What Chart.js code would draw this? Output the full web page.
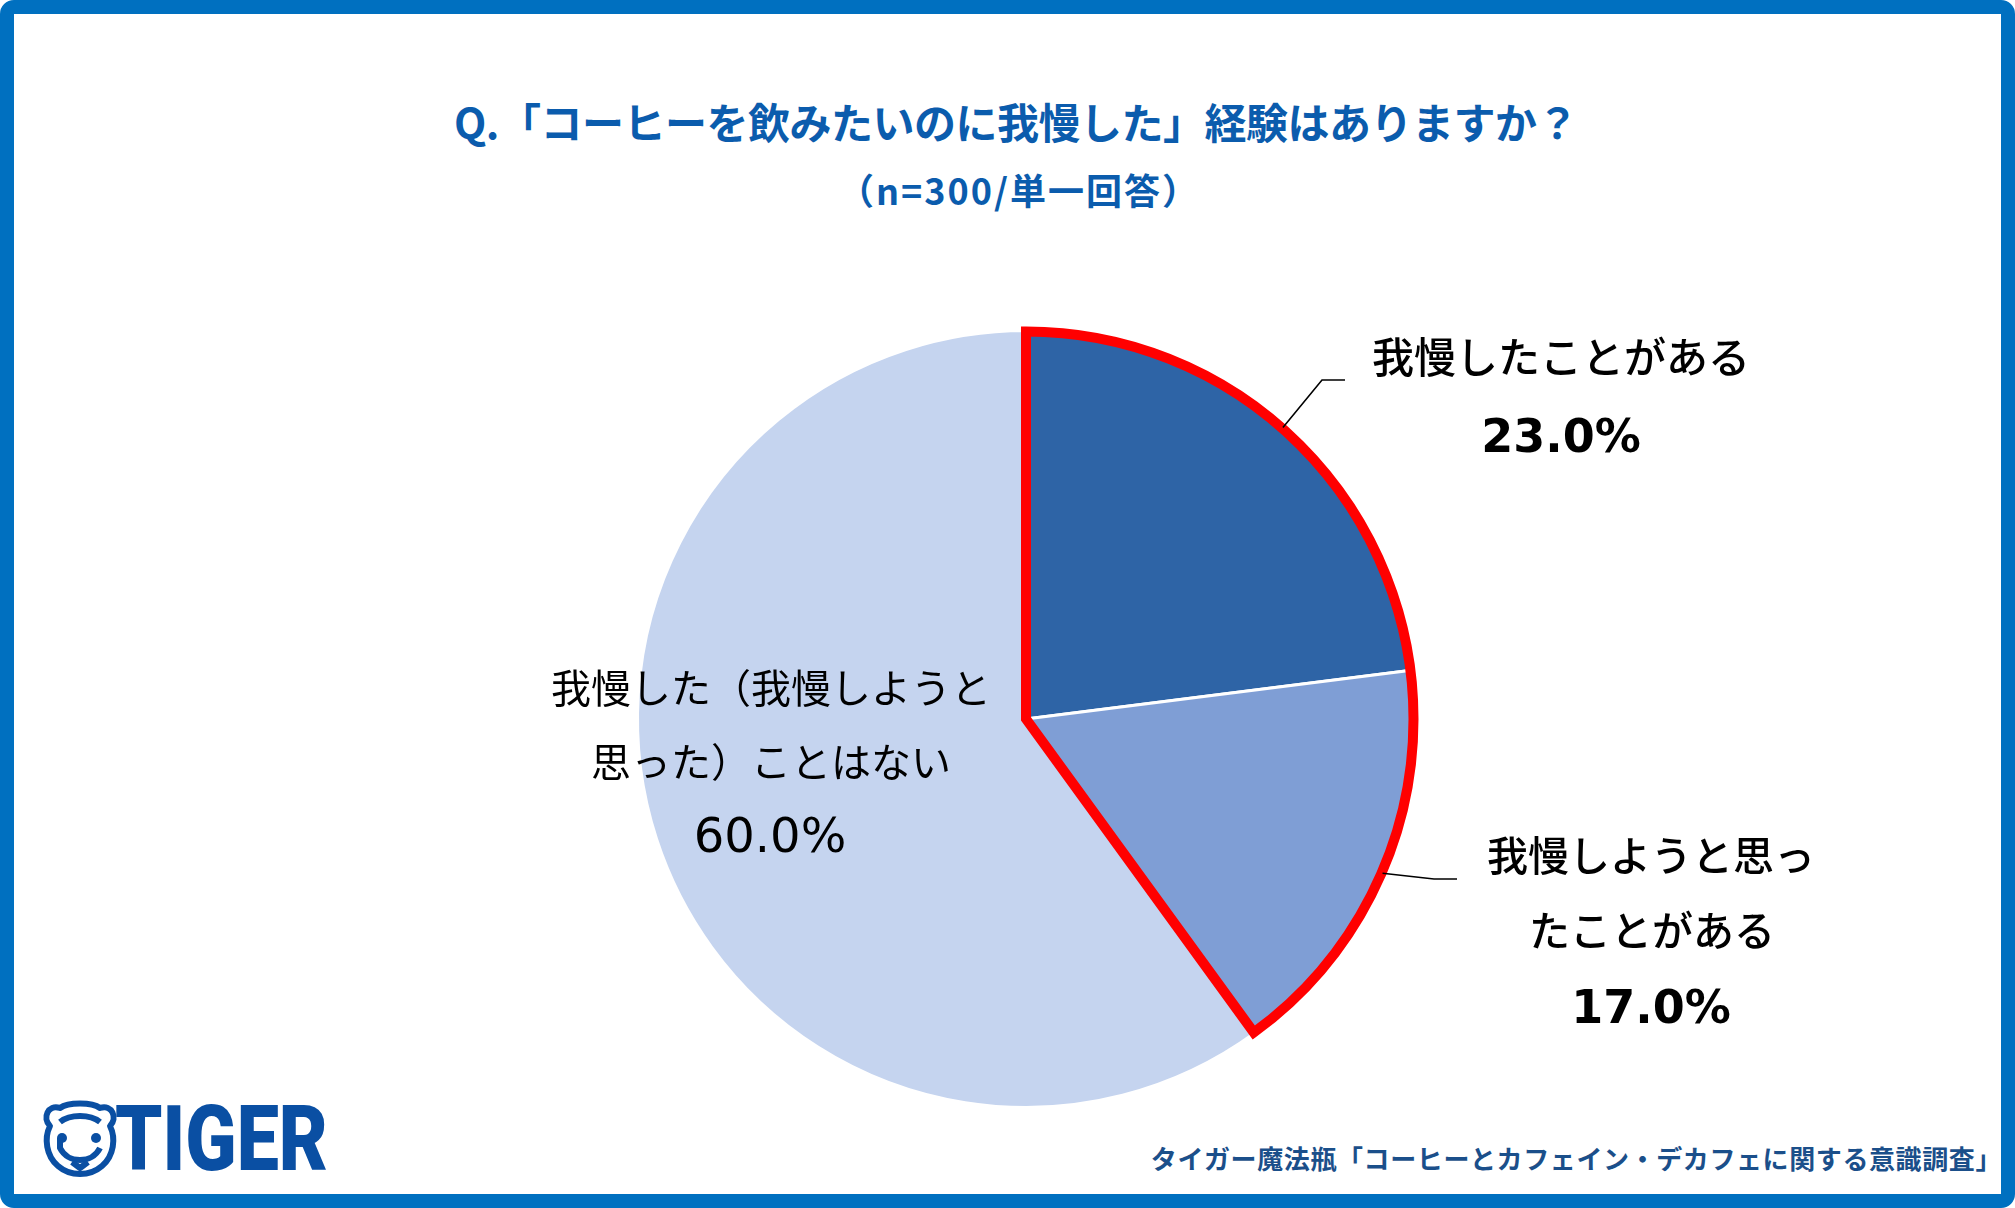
<!DOCTYPE html>
<html lang="ja">
<head>
<meta charset="utf-8">
<script src="https://cdn.jsdelivr.net/npm/chart.js@4.4.1/dist/chart.umd.min.js"></script>
<style>
  html, body { margin: 0; padding: 0; background: #ffffff; }
  body { width: 2015px; height: 1208px; position: relative; overflow: hidden; }
  #frame { position: absolute; left: 0; top: 0; width: 2015px; height: 1208px; box-sizing: border-box;
           border: 14px solid #0070C0; border-radius: 14px; background: #fff; }
  #title { position: absolute; left: 0; width: 2032px; top: 90px; text-align: center;
           font-family: "Noto Sans CJK JP", sans-serif; font-weight: 700; font-size: 42px; color: #0B5CAD; letter-spacing: -0.5px; }
  #subtitle { position: absolute; left: 0; width: 2038px; top: 163px; text-align: center;
           font-family: "Noto Sans CJK JP", sans-serif; font-weight: 700; font-size: 36px; color: #0B5CAD; letter-spacing: 2px; }
  #source { position: absolute; right: 13px; top: 1139px; white-space: nowrap;
           font-family: "Noto Sans CJK JP", sans-serif; font-weight: 700; font-size: 26px; color: #1B4F8A; letter-spacing: 0.6px; }
  #logo { position: absolute; left: 40px; top: 1096px; }
  #chart { position: absolute; left: 0; top: 0; }
</style>
</head>
<body>
<div id="frame"></div>
<div id="title">Q.「コーヒーを飲みたいのに我慢した」経験はありますか？</div>
<div id="subtitle">（n=300/単一回答）</div>
<svg id="logo" width="300" height="82" viewBox="0 0 300 82">
  <g fill="none" stroke="#0A4FA3" stroke-width="6" stroke-linejoin="round">
    <path d="M10 30 C2 22 8 8 20 12 C28 6 52 6 60 12 C72 8 78 22 70 30 C76 42 74 60 62 70 C54 77 46 78 40 78 C34 78 26 77 18 70 C6 60 4 42 10 30 Z"/>
    <path d="M20 26 C30 18 50 18 60 26"/>
    <path d="M20 42 L20 52 C24 60 32 64 40 64 C48 64 56 60 60 52"/>
    <path d="M32 66 L40 72 L48 66"/>
  </g>
  <circle cx="22" cy="42" r="5" fill="#0A4FA3"/>
  <circle cx="56" cy="42" r="5" fill="#0A4FA3"/>
  <text x="75" y="74" font-family="Roboto, 'Liberation Sans', sans-serif" font-weight="900" font-size="90"
        fill="#0A4FA3" textLength="213" lengthAdjust="spacingAndGlyphs">TIGER</text>
</svg>
<div id="source">タイガー魔法瓶「コーヒーとカフェイン・デカフェに関する意識調査」</div>
<canvas id="chart" width="2015" height="1208"></canvas>
<script>
// ---- data ----
const categories = ['我慢したことがある', '我慢しようと思ったことがある', '我慢した（我慢しようと思った）ことはない'];
const values = [23.0, 17.0, 60.0];
const labelLines = [
  ['我慢したことがある'],
  ['我慢しようと思っ', 'たことがある'],
  ['我慢した（我慢しようと', '思った）ことはない']
];
const highlightedCount = 2; // first two slices outlined in red

// ---- styles / layout (not data) ----
const sliceColors = ['#2E64A6', '#7F9ED5', '#C5D4EF'];
const labelStyle = [
  { text: '500 42px "Noto Sans CJK JP"', value: 'bold 46px "DejaVu Sans"', lines: [[535, -362]], val: [535, -279] },
  { text: '500 41px "Noto Sans CJK JP"', value: 'bold 46px "DejaVu Sans"', lines: [[625, 136], [626, 211]], val: [625, 292] },
  { text: '400 40px "Noto Sans CJK JP"', value: '400 48px "DejaVu Sans"', lines: [[-255, -31], [-255, 43]], val: [-256, 121] }
];
const leaders = { 0: [[296, -339], [319, -339]], 1: [[408, 160], [431, 160]] };

const redOutline = {
  id: 'redOutline',
  afterDatasetsDraw(chart) {
    const meta = chart.getDatasetMeta(0);
    const first = meta.data[0], last = meta.data[highlightedCount - 1];
    const { x, y, outerRadius, startAngle } = first.getProps(['x', 'y', 'outerRadius', 'startAngle'], true);
    const endAngle = last.getProps(['endAngle'], true).endAngle;
    const ctx = chart.ctx;
    ctx.save();
    ctx.beginPath();
    ctx.moveTo(x, y);
    ctx.arc(x, y, outerRadius - 1, startAngle, endAngle);
    ctx.closePath();
    ctx.lineWidth = 10;
    ctx.lineJoin = 'miter';
    ctx.strokeStyle = '#FF0000';
    ctx.stroke();
    ctx.restore();
  }
};

const pieLabels = {
  id: 'pieLabels',
  afterDraw(chart) {
    const meta = chart.getDatasetMeta(0);
    const ctx = chart.ctx;
    const { x, y } = meta.data[0].getProps(['x', 'y'], true);
    ctx.save();
    ctx.strokeStyle = '#000';
    ctx.lineWidth = 1.6;
    Object.keys(leaders).forEach(k => {
      const arc = meta.data[k];
      const p = arc.getProps(['startAngle', 'endAngle', 'outerRadius'], true);
      const mid = (p.startAngle + p.endAngle) / 2;
      ctx.beginPath();
      ctx.moveTo(x + Math.cos(mid) * p.outerRadius, y + Math.sin(mid) * p.outerRadius);
      leaders[k].forEach(pt => ctx.lineTo(x + pt[0], y + pt[1]));
      ctx.stroke();
    });
    ctx.fillStyle = '#000';
    ctx.textAlign = 'center';
    ctx.textBaseline = 'middle';
    values.forEach((v, i) => {
      const st = labelStyle[i];
      ctx.font = st.text;
      labelLines[i].forEach((line, j) => {
        ctx.fillText(line, x + st.lines[j][0], y + st.lines[j][1]);
      });
      ctx.font = st.value;
      ctx.fillText(v.toFixed(1) + '%', x + st.val[0], y + st.val[1]);
    });
    ctx.restore();
  }
};

new Chart(document.getElementById('chart'), {
  type: 'pie',
  data: {
    labels: categories,
    datasets: [{
      data: values,
      backgroundColor: sliceColors,
      borderColor: '#FFFFFF',
      borderWidth: 3
    }]
  },
  options: {
    responsive: false,
    devicePixelRatio: 1,
    animation: false,
    radius: 388.5,
    layout: { padding: { left: 637, right: 600, top: 330, bottom: 100 } },
    plugins: { legend: { display: false }, tooltip: { enabled: false }, title: { display: false } }
  },
  plugins: [redOutline, pieLabels]
});
</script>
</body>
</html>
